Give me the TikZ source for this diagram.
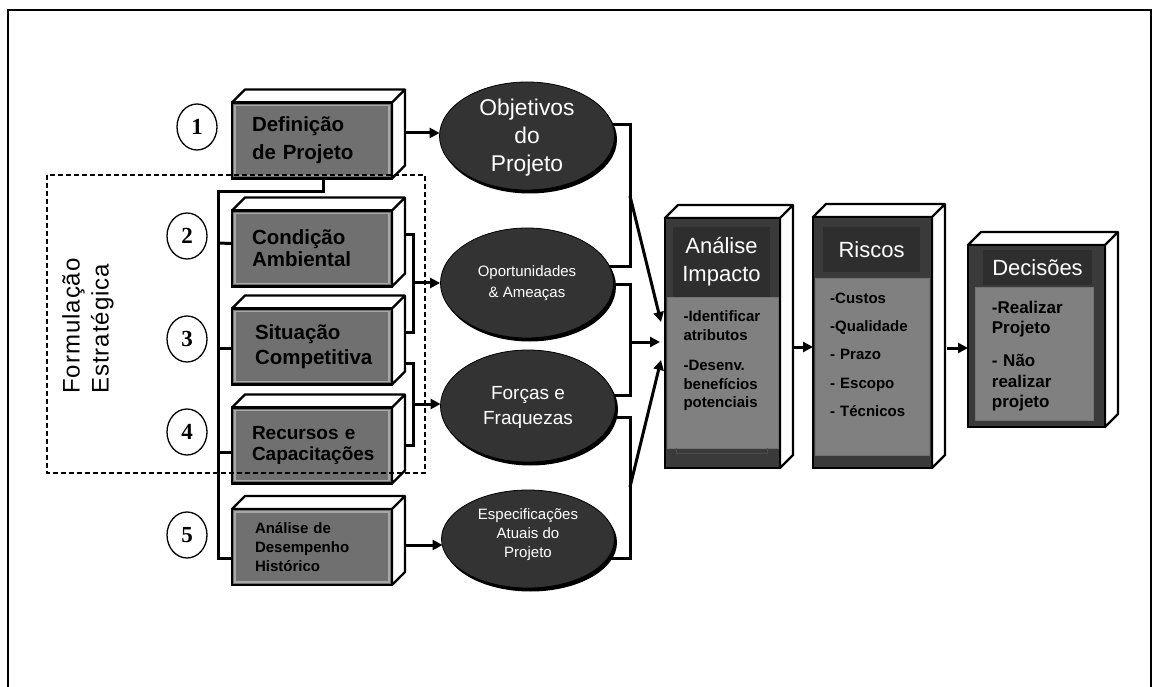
\documentclass[tikz,border=0pt]{standalone}
\usepackage{fontspec}
\setmainfont{Liberation Sans}
\newfontfamily\numfont{Liberation Serif}
\usetikzlibrary{arrows.meta,calc,shapes.geometric,backgrounds,shadows}

\hyphenpenalty=10000
\exhyphenpenalty=10000

\definecolor{facegray}{HTML}{707070}
\definecolor{bevel}{HTML}{A8A8A8}
\definecolor{darkface}{HTML}{3A3A3A}
\definecolor{titlefill}{HTML}{2E2E2E}
\definecolor{panelgray}{HTML}{808080}
\definecolor{ovalfill}{HTML}{333333}

\newcommand{\fsz}[2]{\fontsize{#1}{#2}\selectfont}

\begin{document}
\begin{tikzpicture}[x=1pt,y=-1pt,
  wire/.style={line width=3pt},
  arr/.style={line width=3pt,-{Triangle[length=10pt,width=10pt]}},
  lbox/.style={draw=black,line width=2.8pt,fill=facegray,minimum width=160pt,
    minimum height=76pt,inner xsep=20pt,inner ysep=0pt,outer sep=0pt,
    text width=120pt,align=left},
  face/.style={fill=white,draw=black,line width=2.4pt,line join=round},
  numc/.style={ellipse,draw=black,line width=1.3pt,fill=white,minimum width=40pt,
    minimum height=46pt,inner sep=0pt,font=\numfont\bfseries\fsz{23}{23}},
  oval/.style={ellipse,fill=ovalfill,draw=black,line width=0.8pt,inner sep=0pt,
    drop shadow={shadow xshift=2.5pt,shadow yshift=-3.5pt,fill=black,opacity=1}},
  ovaltext/.style={text=white,align=center,inner sep=0pt},
  rbox/.style={draw=black,line width=2.8pt,fill=darkface,inner sep=0pt,outer sep=0pt},
  rtitle/.style={fill=titlefill,inner sep=0pt,text=white,align=center,font=\fsz{22}{28}},
  rpanel/.style={fill=panelgray,draw=black!55,line width=0.8pt,inner sep=0pt},
  ptext/.style={anchor=base west,inner sep=0pt,align=left,text width=100pt},
  tab/.style={draw=black!70,line width=1pt},
  region/.style={draw=black,line width=1.1pt,dash pattern=on 5pt off 3pt}
]
\useasboundingbox (0,0) rectangle (1160,687);

% page frame
\draw[line width=1.3pt] (8,687) -- (8,10) -- (1151,10) -- (1151,687);

% left column: process steps
\node[lbox,font=\bfseries\fsz{20.5}{27.7}] (b1) at (312,140.5) {Definição\\de Projeto};
\node[lbox,font=\bfseries\fsz{20.5}{21.7}] (b2) at (312,248.5) {Condição\\Ambiental};
\node[lbox,font=\bfseries\fsz{20.5}{25}] (b3) at (312,346.5) {\hspace*{3pt}Situação\\\hspace*{3pt}Competitiva};
\node[lbox,font=\bfseries\fsz{19}{21.7}] (b4) at (312,445.5) {Recursos e\\Capacitações};
\node[lbox,font=\bfseries\fsz{15}{19}] (b5) at (312,547) {\hspace*{3pt}Análise de\\\hspace*{3pt}Desempenho\\\hspace*{3pt}Histórico};
\foreach \n in {b1,b2,b3,b4,b5}
  \draw[bevel,line width=1.2pt] ([shift={(3pt,-3pt)}]\n.north west) rectangle ([shift={(-3pt,3pt)}]\n.south east);

% step numbers
\node[numc] (n1) at (197,127) {1};
\node[numc] (n2) at (187,236) {2};
\node[numc] (n3) at (187,339) {3};
\node[numc] (n4) at (187,432) {4};
\node[numc] (n5) at (187,535) {5};

% middle column: results
\node[oval,minimum width=175pt,minimum height=108pt] (ob) at (527,136) {};
\node[oval,minimum width=173pt,minimum height=110pt] (op) at (527,283) {};
\node[oval,minimum width=175pt,minimum height=112pt] (fo) at (528,406) {};
\node[oval,minimum width=173pt,minimum height=98pt] (es) at (528,539) {};
\node[ovaltext,font=\fsz{22.8}{28.3}] (obt) at (527,137.5) {Objetivos\\do\\Projeto};
\node[ovaltext,font=\fsz{15}{21}] (opt) at (527,283.5) {Oportunidades\\\& Ameaças};
\node[ovaltext,font=\fsz{19}{25}] (fot) at (528,407.5) {Forças e\\Fraquezas};
\node[ovaltext,font=\fsz{15}{19}] (est) at (528,534.5) {Especificações\\Atuais do\\Projeto};

% right column: evaluation boxes
\node[rbox,minimum width=115pt,minimum height=250pt] (an) at (722.5,343) {};
\node[rtitle,minimum width=97pt,minimum height=70pt] (ant) at (721.5,262) {Análise\\Impacto};
\node[rpanel,minimum width=111pt,minimum height=151pt] (anp) at (722.5,372.5) {};
\draw[tab] ([xshift=10pt]anp.south west) |- ([xshift=-11pt,yshift=-5pt]anp.south east) -- ([xshift=-11pt]anp.south east);
\node[ptext,font=\bfseries\fsz{15}{19}] (anx) at (683.3,321)
  {-Identificar\\atributos\\[11pt]-Desenv.\\benefícios\\potenciais};

\node[rbox,minimum width=119pt,minimum height=251pt] (ri) at (872.5,342.5) {};
\node[rtitle,minimum width=97pt,minimum height=45pt] (rit) at (871.5,249.5) {Riscos};
\node[rpanel,minimum width=114pt,minimum height=177pt] (rip) at (872,366.5) {};
\node[ptext,font=\bfseries\fsz{15}{28.3}] (rix) at (830,303.3)
  {-Custos\\-Qualidade\\- Prazo\\- Escopo\\- Técnicos};

\node[rbox,minimum width=137pt,minimum height=182pt] (de) at (1036.5,336) {};
\node[rtitle,minimum width=109pt,minimum height=35pt] (det) at (1037.5,267.5) {Decisões};
\node[rpanel,minimum width=118pt,minimum height=133pt] (dep) at (1034,353.5) {};
\node[ptext,font=\bfseries\fsz{17}{20.5}] (dex) at (991.7,313.3)
  {-Realizar\\Projeto\\[12.5pt]- Não\\realizar\\projeto};

% junction points of the connectors
\coordinate (bustop) at (218,192);
\coordinate (busbot) at (218,558);
\coordinate (j1) at (413,283);
\coordinate (j2) at (413,404);
\coordinate (k1) at (630,196);
\coordinate (k2) at (630,342);
\coordinate (k3) at (630,487);

\begin{pgfonlayer}{background}
  % depth faces of the boxes
  \foreach \n in {b1,b2,b3,b4,b5,an,ri,de}
    \filldraw[face] (\n.north west) -- ++(13,-13) -| ($(\n.south east)+(13,-13)$)
      -- (\n.south east) -- (\n.north east) -- cycle
      (\n.north east) -- ++(13,-13);

  % bus feeding the steps
  \draw[wire] ([xshift=11pt]b1.south) |- (bustop) -- (busbot) -- (busbot -| b5.west);
  \draw[wire] ([yshift=5pt]b2.west) -- (bustop |- 0,243);
  \draw[wire] ([yshift=-1.5pt]b3.west) -- (bustop |- 0,348);
  \draw[wire] ([yshift=-6.5pt]b4.west) -- (bustop |- 0,452);

  % steps to results
  \draw[arr] ([xshift=13pt,yshift=7.5pt]b1.east) -- ([xshift=0.5pt,yshift=3pt]ob.west);
  \draw[wire] ([xshift=13pt,yshift=13.5pt]b2.east) -| (j1) |- ([xshift=13pt,yshift=14.5pt]b3.east);
  \draw[arr] (j1) -- (op.west);
  \draw[wire] ([xshift=13pt,yshift=-16.5pt]b3.east) -| (j2) |- ([xshift=13pt]b4.east);
  \draw[arr] (j2) -- ([xshift=0.5pt,yshift=2pt]fo.west);
  \draw[arr] ([xshift=13pt,yshift=2pt]b5.east) -- ([xshift=1.5pt,yshift=-6pt]es.west);

  % results to impact analysis
  \draw[wire] ([xshift=-8pt,yshift=11pt]ob.east) -| (k1) |- ([xshift=-8pt,yshift=16pt]op.east);
  \draw[arr] (k1) -- ([xshift=-4pt,yshift=21pt]an.west);
  \draw[wire] ([xshift=-8pt,yshift=-2pt]op.east) -| (k2) |- ([xshift=-8pt,yshift=11pt]fo.east);
  \draw[arr] (k2) -- ([xshift=-5pt,yshift=1pt]an.west);
  \draw[wire] ([xshift=-8pt,yshift=-11pt]fo.east) -| (k3) |- ([xshift=-14pt,yshift=-19pt]es.east);
  \draw[arr] (k3) -- ([xshift=-4pt,yshift=-17pt]an.west);

  % evaluation chain
  \draw[arr] ([xshift=13pt,yshift=-4pt]an.east) -- ([yshift=-4.5pt]ri.west);
  \draw[arr] ([xshift=15pt,yshift=-5.5pt]ri.east) -- ([yshift=-12pt]de.west);
\end{pgfonlayer}

% strategic formulation region
\draw[region] (47,175) rectangle (425,473);
\node[rotate=90,align=left,inner sep=0pt,font=\addfontfeature{LetterSpace=4}\fsz{24}{29}] (form) at (88,326)
  {Formulação\\Estratégica};
\end{tikzpicture}
\end{document}
